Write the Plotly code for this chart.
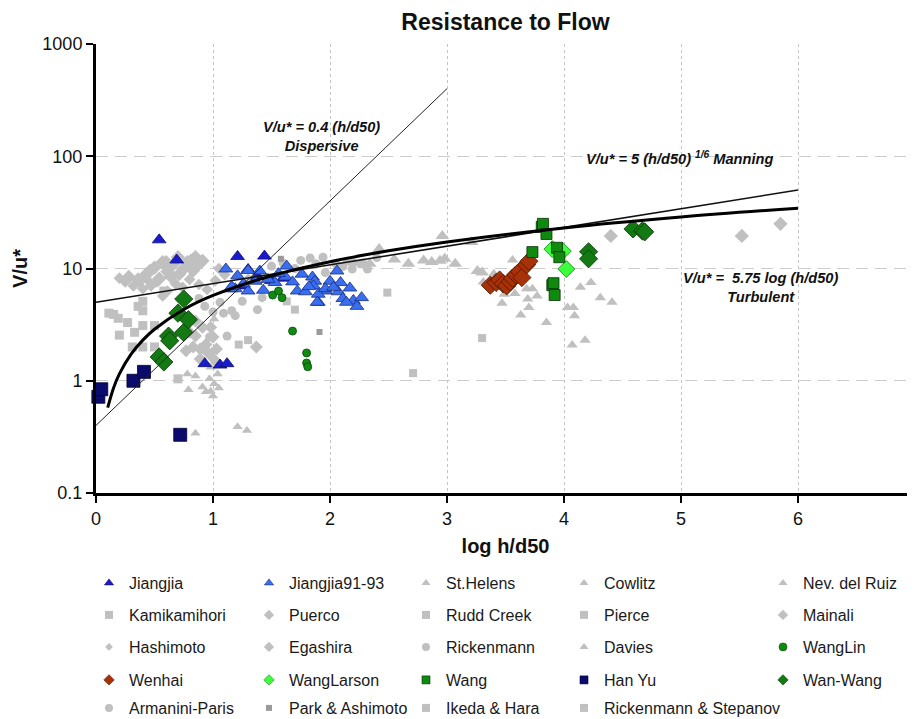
import plotly.graph_objects as go

# ---------------- data (x = log h/d50, y = V/u*) ----------------
jiangjia_x = [0.54, 0.69, 0.93, 1.06, 1.12, 1.21, 1.44, 1.30, 1.38, 1.25, 1.15, 1.50, 1.60]
jiangjia_y = [18.0, 11.9, 1.42, 1.38, 1.42, 12.8, 12.9, 9.8, 8.5, 7.0, 6.6, 7.8, 8.2]

jiangjia9193_x = [1.11, 1.21, 1.30, 1.40, 1.19, 1.30, 1.43, 1.63, 1.62, 1.72, 1.76, 1.85, 1.87, 1.90,
                  1.96, 1.79, 1.53, 1.36, 1.16, 1.90, 1.89, 2.00, 2.09, 2.07, 2.11, 2.17, 2.20, 2.23,
                  2.27, 2.14, 1.86, 1.96, 2.06, 1.68, 1.82, 1.56, 1.47, 1.26, 2.03]
jiangjia9193_y = [9.9, 8.6, 9.6, 9.5, 6.6, 6.3, 6.4, 10.5, 8.4, 6.3, 8.9, 8.4, 7.7, 5.0,
                  6.3, 6.2, 7.5, 7.7, 6.9, 5.9, 5.0, 7.7, 7.5, 6.2, 5.4, 6.7, 5.2, 4.6,
                  5.5, 5.0, 7.0, 6.6, 9.5, 7.6, 6.9, 9.0, 8.0, 7.3, 6.8]

sthelens_x = [2.34, 2.42, 2.67, 2.87, 2.94, 2.96, 2.98, 3.07, 3.21, 3.26, 3.30, 2.55, 2.80]
sthelens_y = [11.0, 14.9, 11.0, 11.4, 11.7, 19.5, 12.2, 11.0, 17.2, 9.5, 9.2, 12.0, 11.8]

cowlitz_x = [3.31, 3.47, 3.49, 3.56, 3.63, 3.68, 3.69, 3.70, 3.73, 3.77, 3.85, 3.40, 3.58]
cowlitz_y = [7.6, 4.9, 5.9, 11.9, 3.85, 6.6, 5.35, 4.5, 6.6, 5.7, 3.3, 9.0, 6.0]

nevruiz_x = [4.03, 4.08, 4.09, 4.14, 4.23, 4.07, 4.18, 4.31, 4.41]
nevruiz_y = [4.5, 4.5, 3.8, 6.8, 7.5, 2.08, 2.3, 5.5, 5.0]

kamikamihori_x = [0.15, 0.19, 0.40, 0.40, 0.33, 0.20, 0.40, 0.50, 0.31, 0.40, 0.50, 0.70]
kamikamihori_y = [3.9, 3.6, 5.1, 4.2, 2.7, 2.55, 3.1, 3.1, 2.0, 2.0, 2.0, 1.04]

puerco_x = [0.28, 0.43, 0.54, 0.61, 0.66, 0.71, 0.75, 0.81, 0.85, 0.88, 0.57, 0.70, 0.46, 0.60, 0.78,
            0.91, 0.36, 0.50, 0.64, 0.83]
puerco_y = [8.4, 8.9, 8.1, 9.4, 10.9, 8.9, 10.0, 11.7, 12.6, 11.0, 11.4, 12.6, 9.5, 11.4, 11.4,
            11.7, 8.0, 10.2, 8.5, 9.6]

ruddcreek_x = [1.22, 1.30, 1.63, 1.70]
ruddcreek_y = [2.1, 2.3, 5.1, 4.3]

pierce_x = [2.49, 2.71, 3.30]
pierce_y = [6.1, 1.17, 2.4]

mainali_x = [4.40, 5.52, 5.85]
mainali_y = [19.5, 19.5, 25.0]

hashimoto_x = [0.25, 0.37, 0.47, 0.61, 0.68, 0.40, 0.32, 0.52, 0.57, 0.74, 0.88, 0.95, 1.02, 1.10,
               1.30, 1.05, 0.20, 0.44, 0.80]
hashimoto_y = [7.6, 7.6, 7.0, 6.3, 7.3, 6.6, 7.0, 7.6, 5.7, 6.8, 7.2, 6.5, 7.8, 8.8,
               8.0, 10.0, 8.2, 7.9, 8.0]

egashira_x = [0.85, 0.94, 1.00, 1.03, 0.83, 0.77, 0.91, 0.85, 0.98, 0.89, 0.95, 1.03, 0.89, 1.37, 0.80]
egashira_y = [2.5, 2.1, 2.45, 1.92, 2.0, 1.85, 3.0, 3.4, 3.0, 1.92, 1.8, 1.47, 1.56, 2.0, 2.7]

rickenmann_x = [1.06, 1.09, 1.16, 1.19, 1.25, 1.38, 1.42, 1.00, 0.93, 0.88, 1.12, 0.97, 0.99]
rickenmann_y = [5.0, 4.0, 4.2, 3.8, 5.1, 4.3, 5.5, 4.1, 4.6, 5.4, 2.5, 2.45, 1.63]

davies_x = [0.78, 0.85, 0.79, 0.91, 0.97, 0.98, 1.00, 1.05, 0.94, 0.98, 1.04, 0.85, 1.21, 1.29, 1.01, 1.01]
davies_y = [1.15, 1.10, 0.83, 0.88, 1.04, 0.81, 0.73, 0.86, 0.80, 1.32, 1.15, 0.34, 0.39, 0.36, 0.94, 3.55]

wanglin_x = [1.51, 1.56, 1.59, 1.68, 1.80, 1.80, 1.81]
wanglin_y = [5.8, 6.3, 5.5, 2.77, 1.77, 1.44, 1.33]

wenhai_x = [3.37, 3.42, 3.45, 3.48, 3.51, 3.54, 3.56, 3.59, 3.62, 3.64, 3.68, 3.70]
wenhai_y = [7.1, 7.5, 7.9, 7.3, 7.0, 7.6, 8.2, 8.8, 9.4, 8.3, 10.8, 11.6]

wanglarson_x = [3.90, 3.99, 4.02]
wanglarson_y = [14.9, 14.3, 9.9]

wang_x = [3.73, 3.81, 3.82, 3.85, 3.94, 3.96, 3.90, 3.91, 3.92]
wang_y = [14.0, 23.5, 25.0, 20.3, 15.3, 12.6, 7.1, 7.4, 5.8]

hanyu_x = [0.02, 0.045, 0.32, 0.41, 0.72]
hanyu_y = [0.72, 0.84, 1.0, 1.2, 0.33]

wanwang_x = [0.54, 0.58, 0.62, 0.63, 0.75, 0.75, 0.70, 0.79, 4.21, 4.21, 4.59, 4.67, 4.69]
wanwang_y = [1.63, 1.47, 2.5, 2.27, 2.7, 5.35, 4.0, 3.5, 14.1, 12.2, 22.5, 21.6, 21.2]

armanini_x = [1.96, 2.11, 2.15, 2.26, 2.32, 2.19, 1.83, 1.94, 2.05, 2.20, 2.28, 1.70, 1.50, 1.88,
              1.60, 1.75, 2.40]
armanini_y = [9.2, 10.4, 11.6, 11.0, 9.9, 9.9, 12.4, 12.6, 11.0, 11.4, 11.2, 10.0, 10.5, 11.0,
              11.2, 11.8, 12.5]

parkashimoto_x = [1.91, 1.58]
parkashimoto_y = [2.72, 12.2]

ikedahara_x = [0.11, 0.27]
ikedahara_y = [4.0, 3.3]

rickstepanov_x = [0.36, 0.58]
rickstepanov_y = [4.6, 6.3]

# reference relations (values of the printed equations at sampled log h/d50)
dispersive_x = [0.0, 3.0]
dispersive_y = [0.4, 400.0]
manning_x = [0.0, 6.0]
manning_y = [5.0, 50.0]
turbulent_x = [0.1, 0.15, 0.2, 0.3, 0.4, 0.5, 0.75, 1.0, 1.5, 2.0, 2.5, 3.0, 4.0, 5.0, 6.0]
turbulent_y = [0.575, 0.8625, 1.15, 1.725, 2.3, 2.875, 4.3125, 5.75, 8.625, 11.5, 14.375, 17.25, 23.0, 28.75, 34.5]

# ---------------- styles ----------------
GRAY = "#c0c0c0"
series = [
    # name, x, y, symbol, size, color, outline
    ("Jiangjia", jiangjia_x, jiangjia_y, "triangle-up", 12, "#1a1ad0", "#10106a"),
    ("Jiangjia91-93", jiangjia9193_x, jiangjia9193_y, "triangle-up", 12, "#3a6ef0", "#1a2f80"),
    ("St.Helens", sthelens_x, sthelens_y, "triangle-up", 12, GRAY, None),
    ("Cowlitz", cowlitz_x, cowlitz_y, "triangle-up", 10, GRAY, None),
    ("Nev. del Ruiz", nevruiz_x, nevruiz_y, "triangle-up", 10, GRAY, None),
    ("Kamikamihori", kamikamihori_x, kamikamihori_y, "square", 9, GRAY, None),
    ("Puerco", puerco_x, puerco_y, "diamond", 11, GRAY, None),
    ("Rudd Creek", ruddcreek_x, ruddcreek_y, "square", 8, GRAY, None),
    ("Pierce", pierce_x, pierce_y, "square", 8, GRAY, None),
    ("Mainali", mainali_x, mainali_y, "diamond", 11, GRAY, None),
    ("Hashimoto", hashimoto_x, hashimoto_y, "diamond", 9, GRAY, None),
    ("Egashira", egashira_x, egashira_y, "diamond", 10, GRAY, None),
    ("Rickenmann", rickenmann_x, rickenmann_y, "circle", 9, GRAY, None),
    ("Davies", davies_x, davies_y, "triangle-up", 9, GRAY, None),
    ("WangLin", wanglin_x, wanglin_y, "circle", 8, "#118a11", "#0a4a0a"),
    ("Wenhai", wenhai_x, wenhai_y, "diamond", 14, "#a83208", "#4a1500"),
    ("WangLarson", wanglarson_x, wanglarson_y, "diamond", 13, "#3cff3c", "#1a7a1a"),
    ("Wang", wang_x, wang_y, "square", 11, "#0f8a0f", "#063006"),
    ("Han Yu", hanyu_x, hanyu_y, "square", 13, "#0b0b6e", "#000030"),
    ("Wan-Wang", wanwang_x, wanwang_y, "diamond", 14, "#137a13", "#063806"),
    ("Armanini-Paris", armanini_x, armanini_y, "circle", 9, GRAY, None),
    ("Park & Ashimoto", parkashimoto_x, parkashimoto_y, "square", 6, "#9a9a9a", None),
    ("Ikeda & Hara", ikedahara_x, ikedahara_y, "square", 9, GRAY, None),
    ("Rickenmann & Stepanov", rickstepanov_x, rickstepanov_y, "square", 9, GRAY, None),
]

# page body has an 8px margin, so the figure is drawn 8px in from the window corner
OFF = 8
W, H = 915 - OFF, 719 - OFF
legend_rows_px = [583, 615, 647, 680, 708]   # window pixels
col_widths = [115, 112, 113, 154, 98]
wide_entry = {"Rickenmann & Stepanov": 180}
legend_x_px = 89

fig = go.Figure()

# gray data first, coloured data on top
order = sorted(range(len(series)), key=lambda i: 0 if series[i][6] is None else 1)
for i in order:
    name, xs, ys, sym, size, color, outline = series[i]
    fig.add_trace(go.Scatter(
        x=xs, y=ys, mode="markers", name=name, legendgroup=name, showlegend=False,
        cliponaxis=False,
        marker=dict(symbol=sym, size=size, color=color,
                    line=dict(color=outline or color, width=0.8 if outline else 0)),
        hoverinfo="name+x+y"))

# reference lines
fig.add_trace(go.Scatter(x=dispersive_x, y=dispersive_y, mode="lines", showlegend=False,
                         line=dict(color="#222222", width=1), hoverinfo="skip"))
fig.add_trace(go.Scatter(x=manning_x, y=manning_y, mode="lines", showlegend=False,
                         line=dict(color="#111111", width=1.6), hoverinfo="skip"))
fig.add_trace(go.Scatter(x=turbulent_x, y=turbulent_y, mode="lines", showlegend=False,
                         line=dict(color="#000000", width=3, shape="spline"), hoverinfo="skip"))

# legend-only entries
for i, s in enumerate(series):
    name, xs, ys, sym, size, color, outline = s
    row, col = divmod(i, 5)
    lid = "legend" if row == 0 else f"legend{row + 1}"
    lsize = 8
    if name in ("Hashimoto", "Park & Ashimoto"):
        lsize = 6
    fig.add_trace(go.Scatter(
        x=[None], y=[None], mode="markers", name=name, legendgroup=name, legend=lid,
        legendwidth=wide_entry.get(name, col_widths[col]),
        marker=dict(symbol=sym, size=lsize, color=color,
                    line=dict(color=outline or color, width=0.6 if outline else 0))))

legend_font = dict(family="Liberation Sans, Arial, sans-serif", size=16, color="#1a1a1a")
for r, ypx in enumerate(legend_rows_px):
    lid = "legend" if r == 0 else f"legend{r + 1}"
    fig.update_layout({lid: dict(
        orientation="h", xref="container", yref="container",
        x=(legend_x_px - OFF) / W, y=1 - (ypx - OFF) / H, xanchor="left", yanchor="middle",
        font=legend_font, bgcolor="rgba(0,0,0,0)", borderwidth=0,
        itemclick=False, itemdoubleclick=False)})

ann_font = dict(family="Liberation Sans, Arial, sans-serif", size=14.6, color="#111111")
fig.add_annotation(x=1.93, y=2.18, text="<b><i>V/u* = 0.4 (h/d50)<br>Dispersive</i></b>",
                   showarrow=False, font=ann_font, align="center")
fig.add_annotation(x=4.99, y=1.984, text="<b><i>V/u* = 5 (h/d50) <sup>1/6</sup> Manning</i></b>",
                   showarrow=False, font=ann_font, align="center")
fig.add_annotation(x=5.68, y=0.831, text="<b><i>V/u* =  5.75 log (h/d50)<br>Turbulent</i></b>",
                   showarrow=False, font=ann_font, align="center")

fig.update_layout(
    width=W, height=H,
    margin=dict(l=96 - OFF, r=0, t=44 - OFF, b=226, autoexpand=False),
    paper_bgcolor="white", plot_bgcolor="white",
    font=dict(family="Liberation Sans, Arial, sans-serif", color="#111111"),
    title=dict(text="<b>Resistance to Flow</b>", x=0.5, xref="paper", y=1 - (22 - OFF) / H,
               yanchor="middle", font=dict(size=23, color="#111111")),
    xaxis=dict(range=[0, 7], dtick=1, tick0=0, showline=True, linecolor="black", linewidth=3,
               ticks="outside", ticklen=7, tickwidth=2, tickcolor="black",
               tickfont=dict(size=18), showgrid=True, gridcolor="#c4c4c4", griddash="dot",
               gridwidth=1, zeroline=False,
               title=dict(text="<b>log h/d50</b>", font=dict(size=20), standoff=12)),
    yaxis=dict(type="log", range=[-1, 3], tickvals=[0.1, 1, 10, 100, 1000],
               ticktext=["0.1", "1", "10", "100", "1000"],
               showline=True, linecolor="black", linewidth=3,
               ticks="outside", ticklen=7, tickwidth=2, tickcolor="black",
               tickfont=dict(size=18), showgrid=True, gridcolor="#cccccc",
               griddash="12px,7px", gridwidth=1, zeroline=False,
               title=dict(text="<b>V/u*</b>", font=dict(size=20), standoff=10)),
)

fig.write_html("out.html")
